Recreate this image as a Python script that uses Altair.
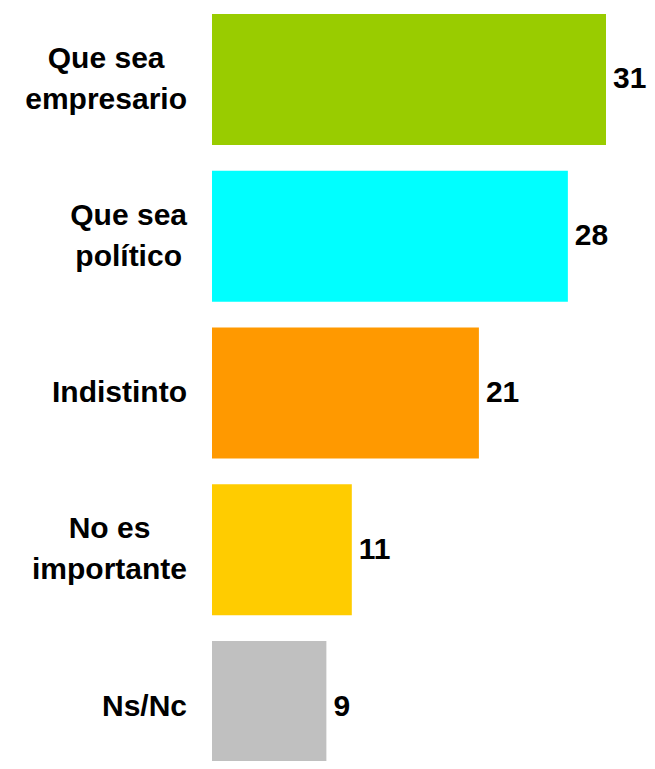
import altair as alt
import pandas as pd

categories = ["Que sea\nempresario", "Que sea\npolítico", "Indistinto", "No es\nimportante", "Ns/Nc"]
values = [31, 28, 21, 11, 9]
colors = ["#99CC00", "#00FFFF", "#FF9900", "#FFCC00", "#C0C0C0"]

FONT = "Liberation Sans"
FONT_SIZE = 30
LINE_HEIGHT = 41
LABEL_GAP = 25

# Liberation Sans Bold (Arial Bold compatible) advance widths, per 1000 em
_ADV = {"Q": 778, "u": 611, "e": 556, " ": 278, "s": 556, "a": 556, "m": 889,
        "p": 611, "r": 389, "i": 278, "o": 611, "l": 278, "í": 278, "t": 333,
        "c": 556, "I": 278, "n": 611, "d": 611, "N": 722, "/": 278}


def text_width(s):
    return sum(_ADV.get(ch, 556) for ch in s) * FONT_SIZE / 1000.0


df = pd.DataFrame({"cat": categories, "val": values, "color": colors})
df["halfw"] = [max(text_width(l) for l in c.split("\n")) / 2 for c in categories]
df["nlines"] = [len(c.split("\n")) for c in categories]

y_enc = alt.Y(
    "cat:N",
    sort=None,
    scale=alt.Scale(paddingInner=0.1643, paddingOuter=0, range=[0, 758]),
    axis=None,
)
x_enc = alt.X("val:Q", scale=alt.Scale(domain=[0, 31], nice=False), axis=None)

bars = alt.Chart(df).mark_bar().encode(
    y=y_enc,
    x=x_enc,
    color=alt.Color("color:N", scale=None, legend=None),
)

values_text = alt.Chart(df).mark_text(
    align="left", baseline="middle", dx=7, font=FONT, fontSize=FONT_SIZE,
    fontWeight="bold", color="#000000",
).encode(
    y=alt.Y("cat:N", sort=None),
    x=alt.X("val:Q"),
    text=alt.Text("val:Q"),
)

cat_text = alt.Chart(df).mark_text(
    align="center", baseline="middle", font=FONT, fontSize=FONT_SIZE,
    fontWeight="bold", color="#000000", lineBreak="\n", lineHeight=LINE_HEIGHT,
    dx=alt.ExprRef(f"-{LABEL_GAP} - datum.halfw"),
    dy=alt.ExprRef(f"-(datum.nlines - 1) * {LINE_HEIGHT} / 2"),
).encode(
    y=alt.Y("cat:N", sort=None),
    x=alt.value(0),
    text="cat:N",
)

chart = (
    alt.layer(bars, values_text, cat_text)
    .properties(
        width=394,
        height=747,
        autosize=alt.AutoSizeParams(type="none"),
        padding={"left": 204, "top": 6, "right": 41, "bottom": 0},
        background="#FFFFFF",
    )
    .configure_view(stroke=None)
)

chart.save("out.html", embed_options={"renderer": "svg", "actions": False})
